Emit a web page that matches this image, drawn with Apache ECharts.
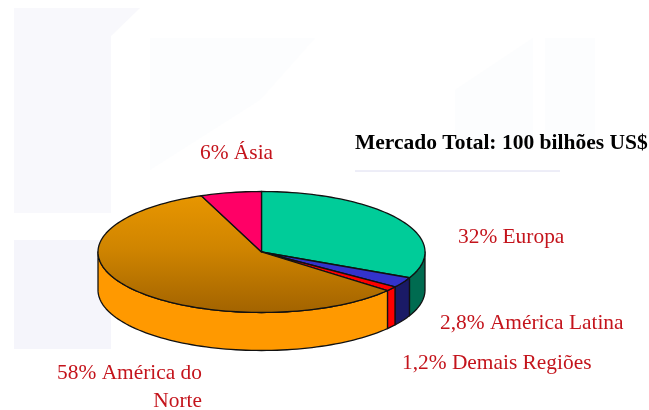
<!DOCTYPE html>
<html>
<head>
<meta charset="utf-8">
<style>
  html, body { margin: 0; padding: 0; background: #fff; }
  #chart { width: 649px; height: 410px; }
</style>
<script src="https://cdn.jsdelivr.net/npm/echarts@6/dist/echarts.min.js"></script>
</head>
<body>
<div id="chart"></div>
<script>
const regions = ['Europa', 'América Latina', 'Demais Regiões', 'América do\nNorte', 'Ásia'];
const shares = [32, 2.8, 1.2, 58, 6];
const shareText = ['32%', '2,8%', '1,2%', '58%', '6%'];
const chartTitle = 'Mercado Total: 100 bilhões US$';

const topColors = ['#00CC99', '#3333CC', '#FF0000', null, '#FF0066'];
const wallColors = ['#006B50', '#1A1A66', '#FF0000', '#FF9900', '#FF0066'];
const labelColor = '#C4141C';
const serif = '"Liberation Serif", serif';

// pie geometry: a flattened disc, so it has to be a custom series
const cx = 261.5, cy = 252, rx = 163.5, ry = 60.5, depth = 38;
const total = shares.reduce((a, b) => a + b, 0);

function pt(share, down) {
  const a = share / total * Math.PI * 2;
  return [cx + rx * Math.sin(a), cy - ry * Math.cos(a) + (down || 0)];
}

function arc(from, to, down) {
  const pts = [];
  const n = Math.max(2, Math.ceil((to - from) * 2));
  for (let i = 0; i <= n; i++) {
    pts.push(pt(from + (to - from) * i / n, down));
  }
  return pts;
}

function renderSlice(params, api) {
  const i = params.dataIndex;
  const value = api.value(0);
  const start = shares.slice(0, i).reduce((a, b) => a + b, 0);
  const end = start + value;
  const line = {stroke: '#111', lineWidth: 1.3, lineJoin: 'round'};
  const children = [];

  // only the part of the rim facing us (25% to 75%) gets a wall
  const wFrom = Math.max(start, total * 0.25), wTo = Math.min(end, total * 0.75);
  if (wTo > wFrom) {
    const upper = arc(wFrom, wTo, 0);
    const lower = arc(wFrom, wTo, depth).reverse();
    children.push({
      type: 'polygon',
      shape: {points: upper.concat(lower)},
      style: Object.assign({fill: wallColors[i]}, line)
    });
  }

  const fill = topColors[i] || new echarts.graphic.LinearGradient(0, 0, 0, 1, [
    {offset: 0, color: '#E89600'},
    {offset: 0.45, color: '#D08500'},
    {offset: 1, color: '#A26300'}
  ]);
  children.push({
    type: 'polygon',
    shape: {points: [[cx, cy]].concat(arc(start, end, 0))},
    style: Object.assign({fill: fill}, line)
  });
  return {type: 'group', children: children};
}

const labelStyle = {fill: labelColor, font: '21.4px ' + serif};
const myChart = echarts.init(document.getElementById('chart'), null, {renderer: 'canvas'});

const option = {
  backgroundColor: '#fff',
  animation: false,
  graphic: [
    // faint backdrop shapes
    {type: 'polygon', z: 0, shape: {points: [[14, 8], [140, 8], [111, 36], [111, 213], [14, 213]]}, style: {fill: '#F8F8FC'}},
    {type: 'rect', z: 0, shape: {x: 14, y: 240, width: 97, height: 109}, style: {fill: '#F5F5FB'}},
    {type: 'polygon', z: 0, shape: {points: [[150, 38], [315, 38], [260, 100], [150, 170]]}, style: {fill: '#FCFDFE'}},
    {type: 'polygon', z: 0, shape: {points: [[455, 90], [533, 38], [533, 150], [455, 150]]}, style: {fill: '#FCFDFE'}},
    {type: 'rect', z: 0, shape: {x: 545, y: 38, width: 50, height: 110}, style: {fill: '#FCFDFE'}},
    // title and rule
    {type: 'text', z: 10, x: 355, y: 132, style: {text: chartTitle, fill: '#000', font: 'bold 21.5px ' + serif}},
    {type: 'line', z: 10, shape: {x1: 355, y1: 171, x2: 560, y2: 171}, style: {stroke: '#DCDCF0', lineWidth: 1}},
    // labels
    {type: 'text', z: 10, x: 200, y: 143, style: Object.assign({text: shareText[4] + ' ' + regions[4]}, labelStyle)},
    {type: 'text', z: 10, x: 458, y: 227, style: Object.assign({text: shareText[0] + ' ' + regions[0]}, labelStyle)},
    {type: 'text', z: 10, x: 440, y: 313, style: Object.assign({text: shareText[1] + ' ' + regions[1]}, labelStyle)},
    {type: 'text', z: 10, x: 402, y: 353, style: Object.assign({text: shareText[2] + ' ' + regions[2]}, labelStyle)},
    {type: 'text', z: 10, x: 202, y: 359, style: Object.assign({text: shareText[3] + ' ' + regions[3], align: 'right', lineHeight: 28}, labelStyle)}
  ],
  series: [{
    type: 'custom',
    coordinateSystem: 'none',
    silent: true,
    z: 5,
    renderItem: renderSlice,
    data: shares.map((v) => [v])
  }]
};

myChart.setOption(option);
</script>
</body>
</html>
